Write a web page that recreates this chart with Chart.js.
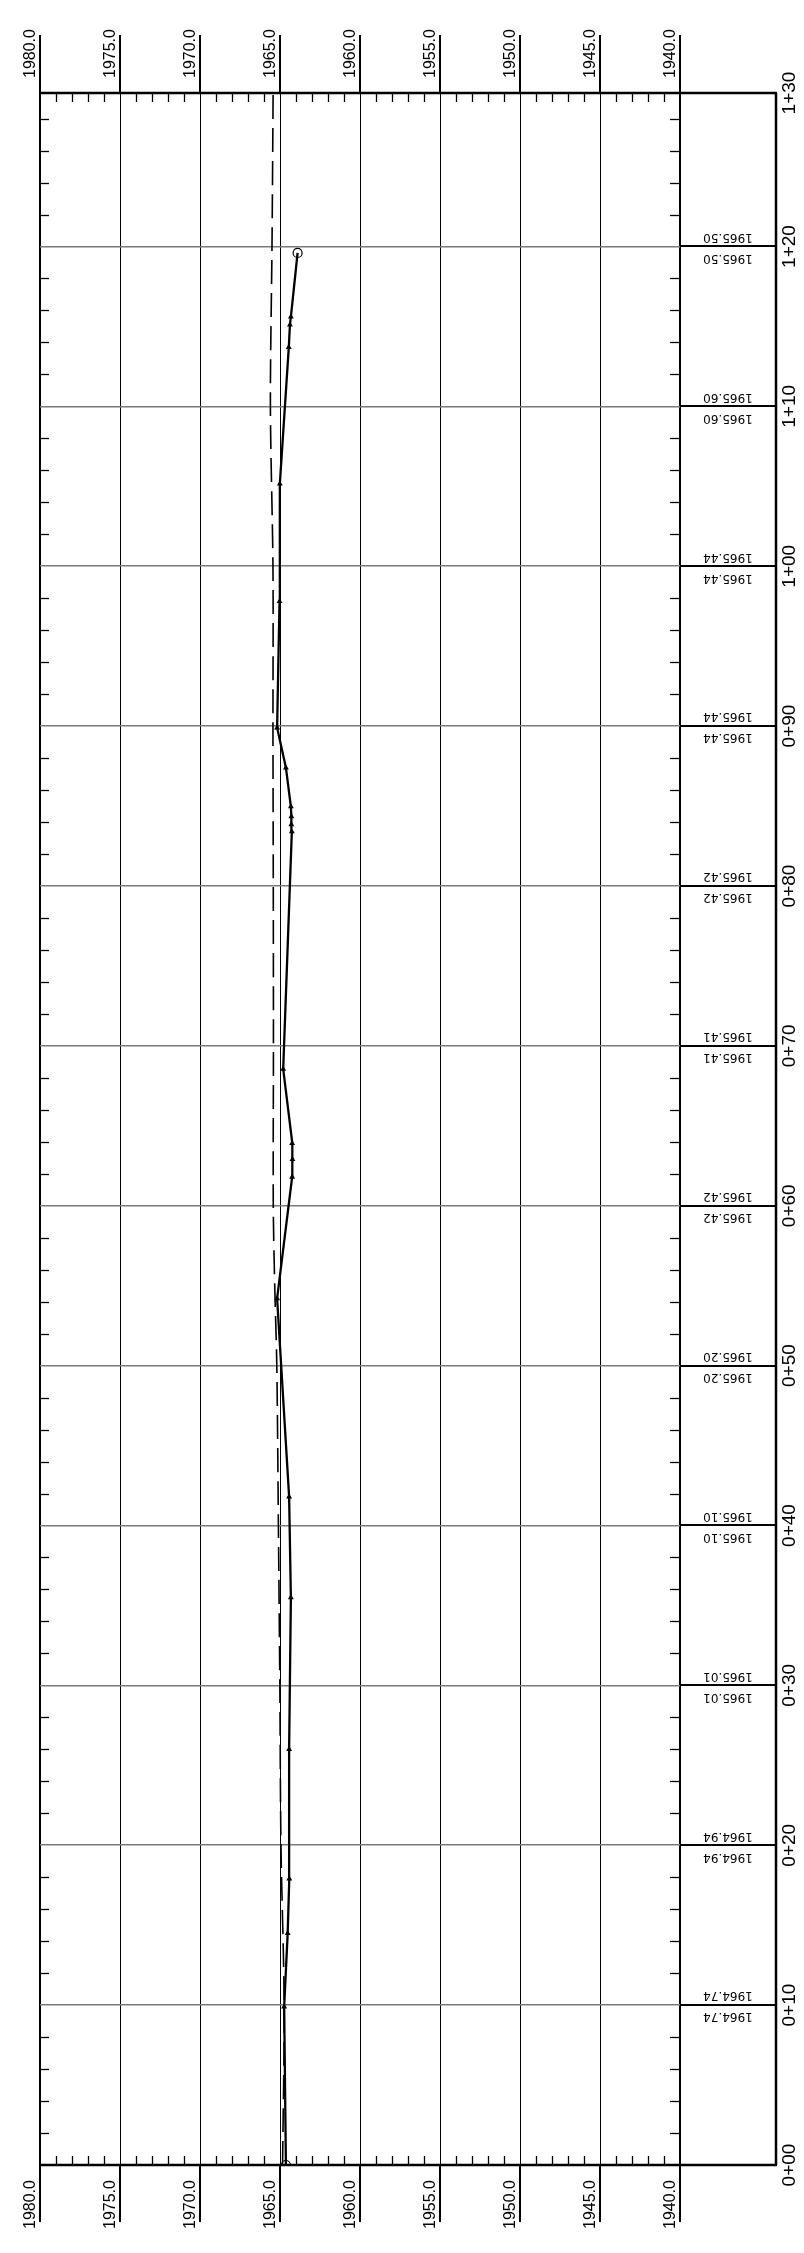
<!DOCTYPE html>
<html>
<head>
<meta charset="utf-8">
<script src="https://cdn.jsdelivr.net/npm/chart.js@4.4.1/dist/chart.umd.min.js"></script>
<style>
html,body{margin:0;padding:0;background:#fff}
canvas{display:block}
</style>
</head>
<body>
<canvas id="profile" width="804" height="2253"></canvas>
<script>
// ground profile (solid) - station in ft, elevation
const groundSta=[0,9.9,14.5,17.9,26.0,35.5,41.8,54.2,61.8,62.9,63.9,68.55,83.4,83.85,84.35,84.97,87.4,89.9,97.8,105.15,113.7,115.1,115.6,119.6];
const groundElev=[1964.63,1964.74,1964.52,1964.42,1964.43,1964.32,1964.43,1965.18,1964.24,1964.22,1964.24,1964.80,1964.26,1964.29,1964.29,1964.32,1964.63,1965.18,1965.03,1965.01,1964.45,1964.38,1964.32,1963.90];
// grade line (dashed)
const gradeSta=[0,10,20,30,40,50,55,60,70,80,90,100,110,120,129.6];
const gradeElev=[1964.84,1964.74,1964.94,1965.01,1965.10,1965.20,1965.33,1965.42,1965.41,1965.42,1965.44,1965.44,1965.60,1965.50,1965.43];
// elevations printed in the right band at each station line
const bandSta=[10,20,30,40,50,60,70,80,90,100,110,120];
const bandElev=['1964.74','1964.94','1965.01','1965.10','1965.20','1965.42','1965.41','1965.42','1965.44','1965.44','1965.60','1965.50'];
const elevTicks=[1980,1975,1970,1965,1960,1955,1950,1945,1940];
const staLines=[0,10,20,30,40,50,60,70,80,90,100,110,120];
const staMax=129.6;

const fmtSta=s=>{const r=Math.round(s/10)*10;return Math.floor(r/100)+'+'+String(r%100).padStart(2,'0');};

function seg(c,x1,y1,x2,y2){c.beginPath();c.moveTo(x1,y1);c.lineTo(x2,y2);c.stroke();}

const frame={
  id:'frame',
  afterDraw(chart){
    const c=chart.ctx,a=chart.chartArea,xs=chart.scales.x,ys=chart.scales.y;
    const bandR=776;
    c.save();
    c.strokeStyle='#000';c.fillStyle='#000';
    // minor ticks
    c.lineWidth=1.3;
    for(let e=1941;e<1980;e++){
      if(e%5===0) continue;
      const px=Math.round(xs.getPixelForValue(e))+0.5;
      seg(c,px,a.top,px,a.top+9);
      seg(c,px,a.bottom,px,a.bottom-9);
    }
    for(let s=2;s<staMax;s+=2){
      if(s%10===0) continue;
      const py=Math.round(ys.getPixelForValue(s))+0.5;
      seg(c,a.left,py,a.left+9,py);
      seg(c,a.right,py,a.right-10,py);
    }
    // major ticks outside frame
    c.lineWidth=2;
    elevTicks.forEach(e=>{
      const px=Math.round(xs.getPixelForValue(e));
      seg(c,px,a.top,px,a.top-58);
      seg(c,px,a.bottom,px,a.bottom+57);
    });
    // station lines across the band
    staLines.forEach(s=>{
      const py=Math.round(ys.getPixelForValue(s));
      seg(c,a.right,py,bandR,py);
    });
    // borders
    c.lineWidth=2.5;
    seg(c,a.left-1,a.top,bandR+1,a.top);
    seg(c,a.left-1,a.bottom,bandR+1,a.bottom);
    seg(c,bandR,a.top,bandR,a.bottom);

    // elevation labels (rotated)
    c.font='16px "Liberation Sans"';
    c.textAlign='left';c.textBaseline='middle';
    elevTicks.forEach(e=>{
      const px=xs.getPixelForValue(e);
      [a.top-15,a.bottom+64].forEach(y=>{
        c.save();c.translate(px-9,y);c.rotate(-Math.PI/2);
        c.fillText(e.toFixed(1),0,0);c.restore();
      });
    });
    // station labels
    c.font='19px "Liberation Sans Narrow","Liberation Sans"';
    c.textAlign='center';
    staLines.concat([staMax]).forEach(s=>{
      const py=ys.getPixelForValue(s);
      c.save();c.translate(790,py);c.rotate(-Math.PI/2);
      c.fillText(fmtSta(s),0,0);c.restore();
    });
    // band elevations, upside down above and below each line
    c.font='12px "DejaVu Sans"';
    bandSta.forEach((s,i)=>{
      const py=ys.getPixelForValue(s);
      [py-9.5,py+11.5].forEach(y=>{
        c.save();c.translate(728,y);c.rotate(Math.PI);
        c.fillText(bandElev[i],0,0);c.restore();
      });
    });
    c.restore();
  }
};

const last=groundSta.length-1;
new Chart(document.getElementById('profile'),{
  type:'scatter',
  data:{datasets:[
    {
      data:groundSta.map((s,i)=>({x:groundElev[i],y:s})),
      showLine:true,borderColor:'#000',borderWidth:2.3,
      pointStyle:ctx=>(ctx.dataIndex===0||ctx.dataIndex===last)?'circle':'triangle',
      pointRadius:ctx=>(ctx.dataIndex===0||ctx.dataIndex===last)?4.5:2.2,
      pointBackgroundColor:ctx=>(ctx.dataIndex===0||ctx.dataIndex===last)?'rgba(255,255,255,0)':'#000',
      pointBorderColor:'#000',pointBorderWidth:1.2
    },
    {
      data:gradeSta.map((s,i)=>({x:gradeElev[i],y:s})),
      showLine:true,borderColor:'#000',borderWidth:1.6,borderDash:[24,9],
      pointRadius:0,tension:0.3
    }
  ]},
  options:{
    responsive:false,animation:false,
    layout:{padding:{left:40,right:124,top:93,bottom:88}},
    plugins:{legend:{display:false},tooltip:{enabled:false}},
    scales:{
      x:{
        type:'linear',reverse:true,min:1940,max:1980,
        afterBuildTicks:s=>{s.ticks=elevTicks.map(v=>({value:v}));},
        ticks:{display:false},
        grid:{color:'#000',lineWidth:c=>(c.tick&&(c.tick.value===1980||c.tick.value===1940))?2:1,drawTicks:false},
        border:{display:false}
      },
      y:{
        type:'linear',min:0,max:staMax,
        afterBuildTicks:s=>{s.ticks=staLines.map(v=>({value:v}));},
        ticks:{display:false},
        grid:{color:'#7a7a7a',lineWidth:1.5,drawTicks:false},
        border:{display:false}
      }
    }
  },
  plugins:[frame]
});
</script>
</body>
</html>
